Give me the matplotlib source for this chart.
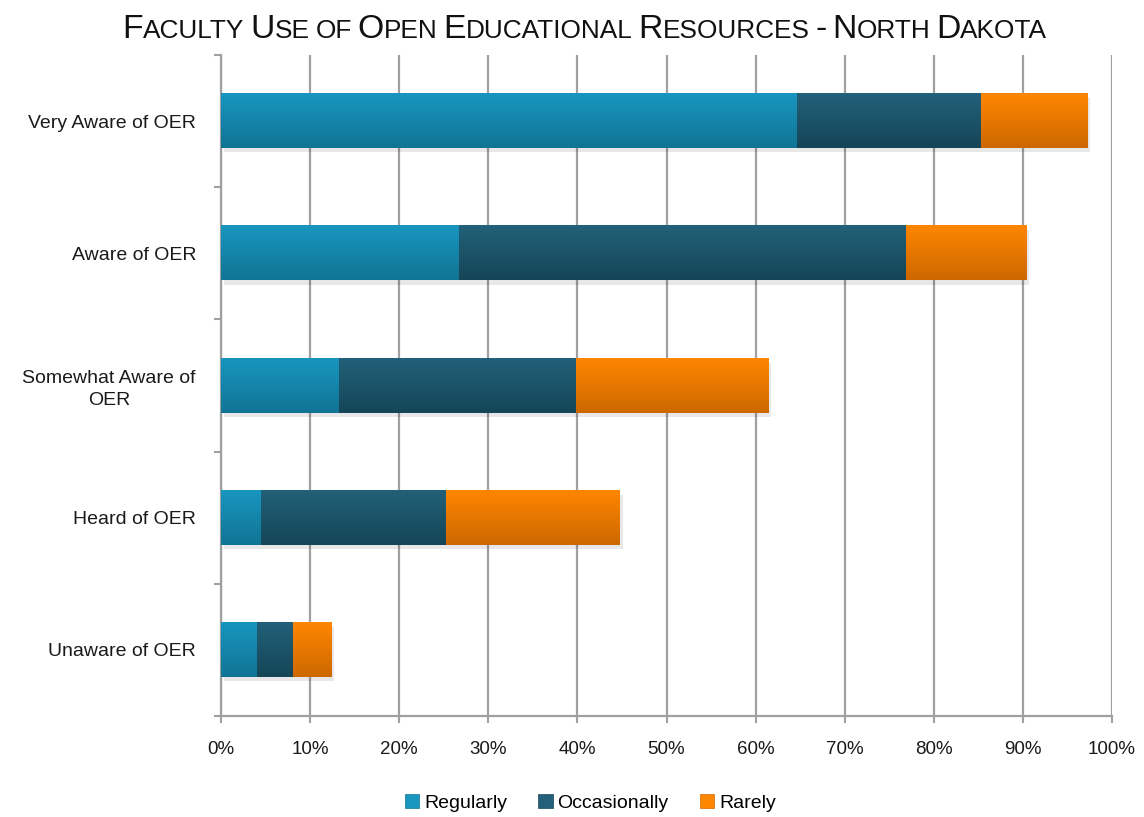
import matplotlib
matplotlib.use('Agg')
import matplotlib.pyplot as plt
import matplotlib.patheffects as pe
from matplotlib.colors import LinearSegmentedColormap
from matplotlib.patches import Patch
import numpy as np

# data (percent of faculty), bottom to top
categories = ['Unaware of OER', 'Heard of OER', 'Somewhat Aware of\nOER',
              'Aware of OER', 'Very Aware of OER']
regularly = [4.0, 4.5, 13.2, 26.7, 64.7]
occasionally = [4.1, 20.8, 26.6, 50.2, 20.6]
rarely = [4.3, 19.5, 21.6, 13.5, 11.9]
series_names = ['Regularly', 'Occasionally', 'Rarely']
x_ticks = list(range(0, 101, 10))
title = 'Faculty Use of Open Educational Resources - North Dakota'

# top / bottom colours of the gradients
grads = [('#1896BF', '#117495'),
         ('#226179', '#154557'),
         ('#FF8600', '#CD6800')]

plt.rcParams['font.family'] = ['Liberation Sans', 'DejaVu Sans']
grid_col = '#A0A0A0'

fig = plt.figure(figsize=(11.44, 8.17), dpi=100)
ax = fig.add_axes([221/1144, 1-716/817, 891/1144, 661/817])

y = np.arange(len(categories))
h = 0.41
left = np.zeros(len(categories))
for vals, name, (ctop, cbot) in zip([regularly, occasionally, rarely], series_names, grads):
    bars = ax.barh(y, vals, height=h, left=left, color=cbot, zorder=3, label=name,
                   path_effects=[pe.SimplePatchShadow(offset=(2, -3), shadow_rgbFace='k', alpha=0.09),
                                 pe.Normal()])
    cmap = LinearSegmentedColormap.from_list(name, [cbot, ctop])
    g = np.linspace(0, 1, 64).reshape(-1, 1)
    for b in bars:
        x0, y0 = b.get_x(), b.get_y()
        ax.imshow(g, cmap=cmap, origin='lower', aspect='auto', zorder=4,
                  extent=[x0, x0 + b.get_width(), y0, y0 + b.get_height()])
    left = left + np.array(vals)

ax.set_xlim(0, 100)
ax.set_ylim(-0.5, len(categories) - 0.5)

ax.set_xticks(x_ticks)
ax.set_xticklabels(['%d%%' % t for t in x_ticks], fontsize=13.5)
ax.tick_params(axis='x', length=5, width=1.5, color=grid_col, pad=13, labelcolor='#1a1a1a')
ax.xaxis.grid(True, color=grid_col, lw=1.6, zorder=0)
ax.set_axisbelow(True)

ax.set_yticks(y)
ax.set_yticklabels(categories, fontsize=14, color='#1a1a1a', multialignment='center',
                   linespacing=1.35)
ax.set_yticks(np.arange(-0.5, len(categories)), minor=True)
ax.tick_params(axis='y', which='major', length=0, pad=18)
ax.tick_params(axis='y', which='minor', length=5, width=1.5, color=grid_col)

for s in ['top', 'right']:
    ax.spines[s].set_visible(False)
for s in ['left', 'bottom']:
    ax.spines[s].set_color(grid_col)
    ax.spines[s].set_linewidth(1.6)

handles = [Patch(facecolor=c[0], edgecolor=c[1], lw=0.5) for c in grads]
fig.legend(handles, series_names, loc='center', bbox_to_anchor=(0.516, 0.017), ncol=3,
           frameon=False, fontsize=14, handlelength=0.75, handleheight=0.75,
           handletextpad=0.25, columnspacing=1.6)

# small caps title: capitals big, the rest upper-cased and smaller
r = fig.canvas.get_renderer()
W = fig.get_figwidth() * fig.dpi


def layout_title(big, small):
    pieces = []
    xpos = 0
    for i, w in enumerate(title.split(' ')):
        if i:
            xpos += 0.3 * small
        runs = []
        for ch in w:
            fs = big if (ch.isupper() or not ch.isalpha()) else small
            if runs and runs[-1][1] == fs:
                runs[-1][0] += ch.upper()
            else:
                runs.append([ch.upper(), fs])
        for s, fs in runs:
            t = fig.text(0, 1 - 38/817, s, fontsize=fs, va='baseline', ha='left', color='#111111')
            pieces.append((t, xpos))
            xpos += t.get_window_extent(r).width
    return pieces, xpos


pieces, width = layout_title(27, 21)
k = 926 / width
for t, _ in pieces:
    t.remove()
pieces, width = layout_title(27 * k, 21 * k)
x0 = 585 - width / 2
for t, off in pieces:
    t.set_x((x0 + off) / W)

fig.savefig('out.png', dpi=100)
